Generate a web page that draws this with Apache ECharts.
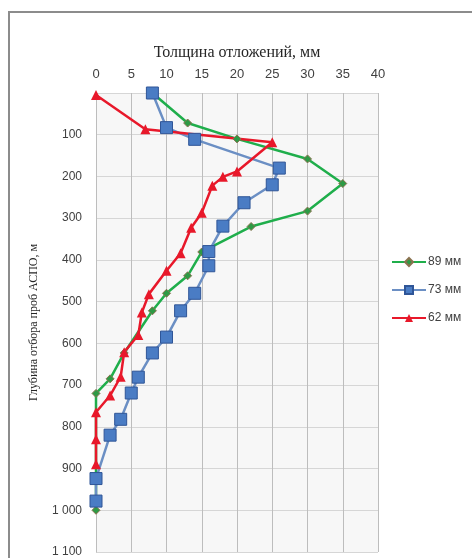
<!DOCTYPE html>
<html><head><meta charset="utf-8">
<script src="https://cdn.jsdelivr.net/npm/echarts@6/dist/echarts.min.js"></script>
<style>html,body{margin:0;padding:0;background:#fff}#c{width:472px;height:558px}</style>
</head><body><div id="c"></div>
<script>
const xTicks = [0,5,10,15,20,25,30,35,40];
const yTicks = [0,100,200,300,400,500,600,700,800,900,1000,1100];
const seriesNames = ['89 мм','73 мм','62 мм'];
const green89_x = [8, 13, 20, 30, 35, 30, 22, 15, 13, 10, 8, 4, 2, 0, 0];
const green89_y = [0, 72, 110, 158, 217, 283, 320, 381, 438, 480, 522, 623, 685, 720, 1000];
const blue73_x = [8, 10, 14, 26, 25, 21, 18, 16, 16, 14, 12, 10, 8, 6, 5, 3.5, 2, 0, 0];
const blue73_y = [0, 83, 111, 180, 220, 263, 319, 380, 414, 480, 522, 585, 623, 681, 719, 782, 820, 924, 978];
const red62_x = [0, 7, 25, 20, 18, 16.5, 15, 13.5, 12, 10, 7.5, 6.5, 6, 4, 3.5, 2, 0, 0, 0];
const red62_y = [5, 87, 118, 188, 201, 222, 287, 323, 384, 426, 482, 526, 580, 621, 680, 725, 765, 830, 890];

const zip = (a,b) => a.map((v,i)=>[v,b[i]]);
const chart = echarts.init(document.getElementById('c'), null, {renderer:'canvas'});
const sans = '"Liberation Sans", Arial, sans-serif';
const serif = '"Liberation Serif", "DejaVu Serif", serif';
chart.setOption({
  animation:false,
  backgroundColor:'#fff',
  graphic:[{type:'rect', shape:{x:9,y:12,width:600,height:700}, style:{fill:'none',stroke:'#8c8c8c',lineWidth:2}, z:-10}],
  grid:{left:96, top:93, right:94, bottom:4, show:true, backgroundColor:'#f7f7f7', borderWidth:0},
  xAxis:{type:'value', position:'top', min:xTicks[0], max:xTicks[xTicks.length-1], interval:5,
    name:'Толщина отложений, мм', nameLocation:'middle', nameGap:32,
    nameTextStyle:{fontFamily:serif, fontSize:16, color:'#262626'},
    axisLine:{show:false}, axisTick:{show:false},
    axisLabel:{fontFamily:sans, fontSize:13, color:'#404040', margin:12},
    splitLine:{lineStyle:{color:'#bdbdbd', width:1}}},
  yAxis:{type:'value', inverse:true, min:yTicks[0], max:yTicks[yTicks.length-1], interval:100,
    name:'Глубина отбора проб АСПО, м', nameLocation:'middle', nameGap:56, nameRotate:90,
    nameTextStyle:{fontFamily:serif, fontSize:12, color:'#262626'},
    axisLine:{show:true, lineStyle:{color:'#bdbdbd'}}, axisTick:{show:false},
    axisLabel:{fontFamily:sans, fontSize:12, color:'#404040', margin:14,
      formatter:v => v===0 ? '' : String(v).replace(/\B(?=(\d{3})+(?!\d))/g,' ')},
    splitLine:{lineStyle:{color:'#d6d6d6', width:1}}},
  legend:{orient:'vertical', left:386, top:251, itemGap:16, itemWidth:34, itemHeight:10,
    textStyle:{fontFamily:sans, fontSize:12, color:'#404040', padding:[0,0,0,-3]},
    data:seriesNames},
  series:[
    {name:seriesNames[0], type:'line', data:zip(green89_x,green89_y), symbol:'diamond', symbolSize:8,
     lineStyle:{color:'#1fae4b', width:2.5}, itemStyle:{color:'#2e9a45', borderColor:'#8a7250', borderWidth:1}},
    {name:seriesNames[1], type:'line', data:zip(blue73_x,blue73_y), symbol:'rect', symbolSize:12,
     lineStyle:{color:'#6b8fc4', width:2.5}, itemStyle:{color:'#4a7cc4', borderColor:'#2f5597', borderWidth:1}},
    {name:seriesNames[2], type:'line', data:zip(red62_x,red62_y), symbol:'triangle', symbolSize:10,
     lineStyle:{color:'#e8182a', width:2.5}, itemStyle:{color:'#e8182a'}}
  ]
});
</script></body></html>
